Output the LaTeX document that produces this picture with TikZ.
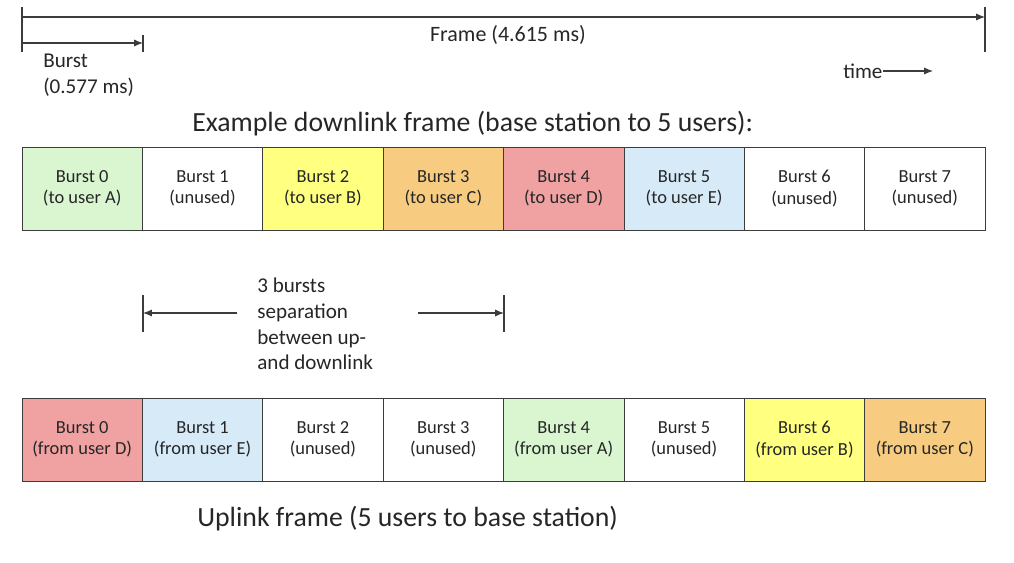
\documentclass[tikz,border=0pt]{standalone}
\usepackage{fontspec}
\setmainfont{Carlito}
\usetikzlibrary{arrows.meta}
\definecolor{burstgreen}{RGB}{217,246,209}
\definecolor{burstyellow}{RGB}{255,255,128}
\definecolor{burstorange}{RGB}{248,204,128}
\definecolor{burstred}{RGB}{240,162,162}
\definecolor{burstblue}{RGB}{214,234,248}
\definecolor{linegray}{RGB}{60,60,60}

\tikzset{
  burst/.style={draw=linegray, minimum width=2.4075cm, minimum height=1.66cm, inner sep=0pt, outer sep=0pt,
    align=center, font=\fontsize{10.5}{12.2}\selectfont, text=black!85},
  dim/.style={draw=linegray, line width=0.6pt},
  dimarrow/.style={dim, -{Latex[length=5pt,width=4pt]}},
  note/.style={anchor=west, align=left, inner sep=0pt, font=\fontsize{12}{14.6}\selectfont, text=black!85},
  heading/.style={anchor=west, inner sep=0pt, font=\fontsize{15.8}{19}\selectfont, text=black!85},
}

\begin{document}
\begin{tikzpicture}[x=0.02cm, y=-0.02cm]
    \useasboundingbox (0,0) rectangle (1014,562);

    \foreach \i/\c/\t in {0/burstgreen/to user A, 1/white/unused, 2/burstyellow/to user B, 3/burstorange/to user C,
                          4/burstred/to user D, 5/burstblue/to user E, 6/white/unused, 7/white/unused}
        \node[burst, fill=\c] (dl\i) at ({82.1875+120.375*\i},188.5) {Burst \i\\(\t)};

    \foreach \i/\c/\t in {0/burstred/from user D, 1/burstblue/from user E, 2/white/unused, 3/white/unused,
                          4/burstgreen/from user A, 5/white/unused, 6/burstyellow/from user B, 7/burstorange/from user C}
        \node[burst, fill=\c] (ul\i) at ({82.1875+120.375*\i},439.5) {Burst \i\\(\t)};

    \coordinate (framestart) at (22,17);
    \coordinate (frameend) at (985,17);
    \draw[dim] (22,7) -- (22,52);
    \draw[dim] (985,7) -- (985,52);
    \draw[dimarrow] (framestart) -- (frameend);
    \node[font=\fontsize{12.5}{15}\selectfont, text=black!85] (framelabel) at (508,35) {Frame (4.615 ms)};

    \coordinate (burststart) at (22,43);
    \coordinate (burstend) at (143,43);
    \draw[dim] (143,35) -- (143,52);
    \draw[dimarrow] (burststart) -- (burstend);
    \node[note] (burstlabel) at (43,75) {Burst\\(0.577 ms)};

    \node[note] (time) at (843,71) {time};
    \coordinate (timeend) at (933,71);
    \draw[dimarrow] (time.east) -- (timeend);

    \node[heading] (dltitle) at (192,124) {Example downlink frame (base station to 5 users):};

    \coordinate (sepleft) at (143,313);
    \coordinate (sepleftend) at (237,313);
    \coordinate (sepright) at (504,313);
    \coordinate (seprightend) at (418,313);
    \draw[dim] (143,295) -- (143,332);
    \draw[dim] (504,295) -- (504,332);
    \draw[dimarrow] (sepleftend) -- (sepleft);
    \draw[dimarrow] (seprightend) -- (sepright);
    \node[note] (seplabel) at (257,324) {3 bursts\\separation\\between up-\\and downlink};

    \node[heading] (ultitle) at (197,519) {Uplink frame (5 users to base station)};
\end{tikzpicture}
\end{document}
